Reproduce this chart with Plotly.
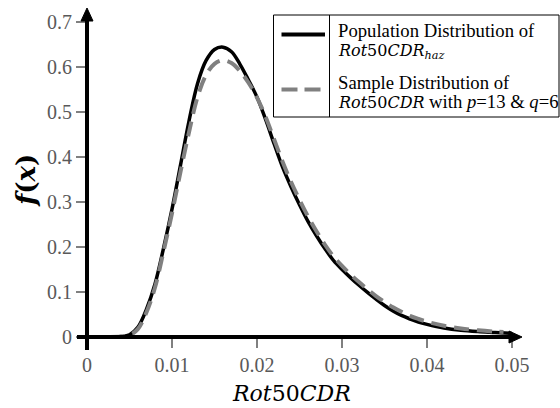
import plotly.graph_objects as go

# ---------------- data ----------------
x_pop = [0.000, 0.002, 0.004, 0.005, 0.006, 0.007, 0.008, 0.009, 0.010, 0.011,
         0.012, 0.013, 0.014, 0.015, 0.016, 0.017, 0.018, 0.019, 0.020, 0.021,
         0.022, 0.023, 0.024, 0.025, 0.026, 0.027, 0.028, 0.029, 0.030, 0.031,
         0.032, 0.033, 0.034, 0.035, 0.036, 0.037, 0.038, 0.039, 0.040, 0.042,
         0.044, 0.046, 0.048, 0.050]
f_pop = [0.000, 0.000, 0.001, 0.005, 0.022, 0.062, 0.118, 0.197, 0.284, 0.382,
         0.480, 0.563, 0.614, 0.639, 0.644, 0.634, 0.606, 0.571, 0.533, 0.484,
         0.430, 0.378, 0.334, 0.294, 0.257, 0.225, 0.196, 0.170, 0.150, 0.132,
         0.115, 0.099, 0.084, 0.070, 0.058, 0.048, 0.040, 0.033, 0.028, 0.020,
         0.015, 0.012, 0.010, 0.008]

x_sample = [0.000, 0.002, 0.004, 0.005, 0.006, 0.007, 0.008, 0.009, 0.010, 0.011,
            0.012, 0.013, 0.014, 0.015, 0.016, 0.017, 0.018, 0.019, 0.020, 0.021,
            0.022, 0.023, 0.024, 0.025, 0.026, 0.027, 0.028, 0.029, 0.030, 0.031,
            0.032, 0.033, 0.034, 0.035, 0.036, 0.037, 0.038, 0.039, 0.040, 0.042,
            0.044, 0.046, 0.048, 0.049]
f_sample = [0.000, 0.000, 0.001, 0.004, 0.018, 0.055, 0.110, 0.190, 0.275, 0.367,
            0.455, 0.533, 0.582, 0.607, 0.615, 0.609, 0.591, 0.565, 0.532, 0.490,
            0.440, 0.390, 0.345, 0.305, 0.268, 0.235, 0.205, 0.179, 0.158, 0.139,
            0.122, 0.106, 0.091, 0.078, 0.066, 0.056, 0.047, 0.040, 0.034, 0.025,
            0.019, 0.015, 0.012, 0.011]

x_ticks = [0, 0.01, 0.02, 0.03, 0.04, 0.05]
x_ticklabels = ["0", "0.01", "0.02", "0.03", "0.04", "0.05"]
y_ticks = [0, 0.1, 0.2, 0.3, 0.4, 0.5, 0.6, 0.7]
y_ticklabels = ["0", "0.1", "0.2", "0.3", "0.4", "0.5", "0.6", "0.7"]

legend_pop = ["Population Distribution of", "<i>Rot</i>50<i>CDR</i><sub><i>haz</i></sub>"]
legend_sample = ["Sample Distribution of", "<i>Rot</i>50<i>CDR</i>",
                 "with <i>p</i>=13 &amp; <i>q</i>=6"]
x_title = "<i>Rot</i>50<i>CDR</i>"
y_title = "<b><i>f</i>(<i>x</i>)</b>"

# ---------------- layout geometry ----------------
W, H = 560, 408
ML, MR, MT, MB = 87, 48, 22, 71
PW, PH = W - ML - MR, H - MT - MB


def px(x):
    return (x - ML) / PW


def py(y):
    return (H - MB - y) / PH


SERIF = "Liberation Serif, Times New Roman, serif"
MATH = "DejaVu Serif, serif"

fig = go.Figure()
fig.add_trace(go.Scatter(x=x_pop, y=f_pop, mode="lines", line_shape="spline",
                         line=dict(color="black", width=3.5), showlegend=False))
fig.add_trace(go.Scatter(x=x_sample, y=f_sample, mode="lines", line_shape="spline",
                         line=dict(color="#808080", width=4, dash="15px,8px"),
                         showlegend=False))

shapes = []
# y axis line + arrow
shapes.append(dict(type="line", xref="paper", yref="paper",
                   x0=px(87), x1=px(87), y0=py(350), y1=py(19),
                   line=dict(color="black", width=4)))
shapes.append(dict(type="path", xref="paper", yref="paper",
                   path=f"M {px(81)},{py(21)} L {px(87)},{py(8)} L {px(93)},{py(21)} Z",
                   fillcolor="black", line=dict(color="black", width=1)))
# x axis line + arrow
shapes.append(dict(type="line", xref="paper", yref="paper",
                   x0=px(77), x1=px(511), y0=py(337), y1=py(337),
                   line=dict(color="black", width=4)))
shapes.append(dict(type="path", xref="paper", yref="paper",
                   path=f"M {px(509)},{py(331)} L {px(522)},{py(337)} L {px(509)},{py(343)} Z",
                   fillcolor="black", line=dict(color="black", width=1)))
# legend box
shapes.append(dict(type="rect", xref="paper", yref="paper",
                   x0=px(273.5), x1=px(559), y0=py(117), y1=py(15),
                   fillcolor="white", line=dict(color="black", width=1)))
shapes.append(dict(type="line", xref="paper", yref="paper",
                   x0=px(329.5), x1=px(329.5), y0=py(117), y1=py(15),
                   line=dict(color="black", width=1)))
shapes.append(dict(type="line", xref="paper", yref="paper",
                   x0=px(281.5), x1=px(325), y0=py(34.5), y1=py(34.5),
                   line=dict(color="black", width=4)))
shapes.append(dict(type="line", xref="paper", yref="paper",
                   x0=px(281.5), x1=px(321), y0=py(89.5), y1=py(89.5),
                   line=dict(color="#808080", width=4, dash="16px,7px")))

annotations = []


def ann(text, x, y, size, family, xanchor="left", color="black", angle=0):
    annotations.append(dict(text=text, x=px(x), y=py(y), xref="paper", yref="paper",
                            xanchor=xanchor, yanchor="middle", showarrow=False,
                            textangle=angle,
                            font=dict(size=size, family=family, color=color)))


ann(legend_pop[0], 336, 30, 18.7, SERIF)
ann(legend_pop[1], 336, 51, 16, MATH)
ann(legend_sample[0], 336, 82, 18.7, SERIF)
ann(legend_sample[1], 336, 102, 16, MATH)
ann(legend_sample[2], 427, 101, 18.7, SERIF)
ann(x_title, 291, 393, 22, MATH, xanchor="center")
ann(y_title, 26, 181, 26, MATH, xanchor="center", angle=-90)

fig.update_layout(
    width=W, height=H,
    margin=dict(l=ML, r=MR, t=MT, b=MB, pad=0),
    plot_bgcolor="white", paper_bgcolor="white",
    showlegend=False,
    shapes=shapes, annotations=annotations,
    xaxis=dict(range=[0, 0.05], tickvals=x_ticks, ticktext=x_ticklabels,
               showgrid=False, zeroline=False, showline=False,
               ticks="outside", ticklen=10, tickwidth=1.5, tickcolor="#808080",
               tickfont=dict(family=SERIF, size=20, color="#595959")),
    yaxis=dict(range=[0, 0.7], tickvals=y_ticks, ticktext=y_ticklabels,
               showgrid=False, zeroline=False, showline=False,
               ticks="outside", ticklen=10, tickwidth=1.5, tickcolor="#808080",
               tickfont=dict(family=SERIF, size=20, color="#595959")),
)

fig.write_html("out.html", config={"displayModeBar": False},
               post_script="document.body.style.margin='0px';document.body.style.padding='0px';")
